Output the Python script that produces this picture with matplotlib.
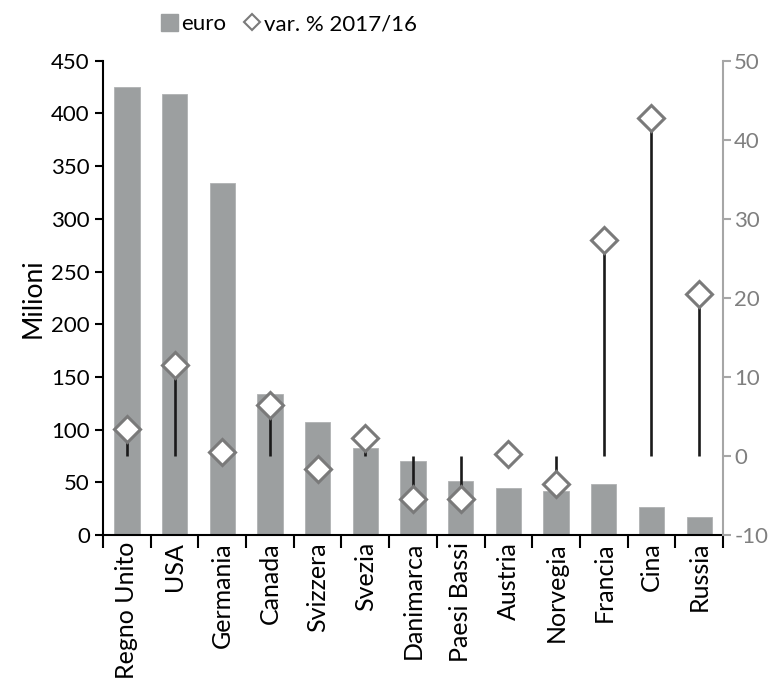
import matplotlib
matplotlib.use("Agg")
import matplotlib.pyplot as plt
from matplotlib.patches import Patch
from matplotlib.lines import Line2D
import numpy as np

plt.rcParams['font.family'] = ['Lato', 'DejaVu Sans']
plt.rcParams['axes.unicode_minus'] = False

paesi = ["Regno Unito", "USA", "Germania", "Canada", "Svizzera", "Svezia",
         "Danimarca", "Paesi Bassi", "Austria", "Norvegia", "Francia", "Cina", "Russia"]
euro = [425, 418, 334, 134, 107, 83, 70, 51.5, 45, 42, 48.5, 27, 17]
var_pct = [3.4, 11.5, 0.5, 6.4, -1.6, 2.3, -5.5, -5.4, 0.2, -3.5, 27.3, 42.7, 20.5]

grigio_barre = '#9c9fa0'
grigio_asse = '#a6a6a6'
grigio_testo = '#7f7f7f'
grigio_rombo = '#7a7a7a'

fig = plt.figure(figsize=(7.7, 6.9), dpi=100)
ax = fig.add_axes([0.1338, 0.2246, 0.8052, 0.6874])
x = np.arange(len(paesi))

ax.bar(x, euro, width=0.53, color=grigio_barre, edgecolor='#b0b2b3', linewidth=0.6, zorder=2)
ax.set_xlim(-0.5, len(paesi) - 0.5)
ax.set_ylim(0, 450)
ax.set_yticks(range(0, 451, 50))
ax.set_ylabel("Milioni", fontsize=19, labelpad=4)
ax.tick_params(axis='y', labelsize=16, length=6, width=1.5, direction='out', colors='black')

# etichette al centro, tacche tra una categoria e l'altra
ax.set_xticks(x)
ax.set_xticklabels(paesi, rotation=90, fontsize=18)
ax.set_xticks(np.arange(-0.5, len(paesi)), minor=True)
ax.tick_params(axis='x', which='major', length=0, pad=5)
ax.tick_params(axis='x', which='minor', length=9, width=1.5, direction='out')

for lato in ['top', 'right']:
    ax.spines[lato].set_visible(False)
ax.spines['left'].set_linewidth(1.5)
ax.spines['bottom'].set_linewidth(1.5)

# asse destro: variazione percentuale
ax2 = ax.twinx()
ax2.set_ylim(-10, 50)
ax2.set_yticks(range(-10, 51, 10))
ax2.tick_params(axis='y', labelsize=16, length=6, width=1.5, pad=2,
                colors=grigio_asse, labelcolor=grigio_testo)
for lato in ['top', 'left', 'bottom']:
    ax2.spines[lato].set_visible(False)
ax2.spines['right'].set_color(grigio_asse)
ax2.spines['right'].set_linewidth(1.5)

ax2.vlines(x, 0, var_pct, color='#1a1a1a', linewidth=1.9, zorder=3)
ax2.plot(x, var_pct, linestyle='none', marker='D', markersize=13,
         markerfacecolor='white', markeredgecolor=grigio_rombo, markeredgewidth=2.2, zorder=4)

maniglie = [Patch(facecolor=grigio_barre, edgecolor=grigio_barre, label='euro'),
            Line2D([], [], linestyle='none', marker='D', markersize=8,
                   markerfacecolor='white', markeredgecolor=grigio_rombo,
                   markeredgewidth=1.5, label='var. % 2017/16')]
fig.legend(handles=maniglie, loc='center', bbox_to_anchor=(0.375, 0.965), ncol=2,
           frameon=False, fontsize=16, handlelength=0.75, handleheight=0.75,
           handletextpad=0.15, columnspacing=0.8)

fig.savefig("out.png", dpi=100)
